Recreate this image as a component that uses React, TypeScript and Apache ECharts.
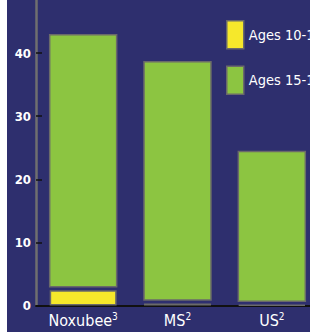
import React, { useEffect, useRef } from "react";
import * as echarts from "echarts";

const categories = ["Noxubee", "MS", "US"];
const superscripts = ["3", "2", "2"];
const ages10to14 = [2.4, 0.3, 0.1];
const ages15to19 = [40.5, 38.3, 24.3];
const yTicks = [0, 10, 20, 30, 40];

const NAVY = "#2e2f6e";
const GREEN = "#8cc541";
const YELLOW = "#f6e82b";
const BORDER = "#6a6a6a";
const FONT = "'DejaVu Sans Condensed', 'Liberation Sans Narrow', sans-serif";
const GAP = 3.5;

export default function App() {
  const ref = useRef<HTMLDivElement>(null);
  useEffect(() => {
    if (!ref.current) return;
    const chart = echarts.init(ref.current, undefined, { renderer: "svg" });
    chart.setOption({
      animation: false,
      backgroundColor: NAVY,
      grid: { left: 29, right: 0, top: 0, bottom: 26.5, containLabel: false },
      legend: {
        orient: "vertical",
        left: 214,
        top: 15,
        itemWidth: 17,
        itemHeight: 28,
        itemGap: 16,
        icon: "rect",
        data: ["Ages 10-14", "Ages 15-19"],
        textStyle: { color: "#ffffff", fontSize: 14.5, fontFamily: FONT },
        itemStyle: { borderColor: BORDER, borderWidth: 1.5 },
      },
      xAxis: {
        type: "category",
        data: categories,
        axisLine: { lineStyle: { color: "#111111", width: 2 } },
        axisTick: { inside: true, length: 6, lineStyle: { color: "#111111", width: 1.5 } },
        axisLabel: {
          interval: 0,
          margin: 6,
          formatter: (v: string, i: number) => `{n|${v}}{s|${superscripts[i]}}`,
          rich: {
            n: { color: "#ffffff", fontSize: 16, fontFamily: FONT },
            s: { color: "#ffffff", fontSize: 10, fontFamily: FONT, padding: [0, 0, 8, 0] },
          },
        },
      },
      yAxis: {
        type: "value",
        min: 0,
        max: 48.4,
        interval: 10,
        splitLine: { show: false },
        axisLine: { show: true, lineStyle: { color: "#6f6f6f", width: 2.5 } },
        axisTick: {
          show: true,
          inside: true,
          length: 6,
          customValues: yTicks,
          lineStyle: { color: "#111111", width: 1.5 },
        },
        axisLabel: {
          customValues: yTicks,
          margin: 5,
          color: "#ffffff",
          fontSize: 13,
          fontWeight: "bold",
          fontFamily: FONT,
        },
      },
      series: [
        {
          name: "Ages 10-14",
          type: "bar",
          barWidth: "71%",
          data: ages10to14,
          itemStyle: { color: YELLOW, borderColor: BORDER, borderWidth: 1.5 },
        },
        {
          name: "Ages 15-19",
          type: "custom",
          data: ages15to19.map((v, i) => [i, ages10to14[i], v, ages10to14[i] + v]),
          encode: { x: 0, y: 3 },
          itemStyle: { color: GREEN, borderColor: BORDER, borderWidth: 1.5 },
          renderItem: (params: any, api: any) => {
            const idx = api.value(0);
            const base = api.value(1);
            const val = api.value(2);
            const top = api.coord([idx, base + val]);
            const bottom = api.coord([idx, base]);
            const w = api.size([1, 0])[0] * 0.71;
            return {
              type: "rect",
              shape: { x: top[0] - w / 2, y: top[1], width: w, height: bottom[1] - GAP - top[1] },
              style: { fill: GREEN, stroke: BORDER, lineWidth: 1.5 },
            };
          },
        },
      ],
    });
    return () => chart.dispose();
  }, []);
  return (
    <div
      style={{
        position: "absolute",
        left: 0,
        top: 0,
        width: 310,
        height: 332,
        overflow: "hidden",
        background: "#ffffff",
      }}
    >
      <div ref={ref} style={{ position: "absolute", left: 7, top: 0, width: 312, height: 332 }} />
    </div>
  );
}
